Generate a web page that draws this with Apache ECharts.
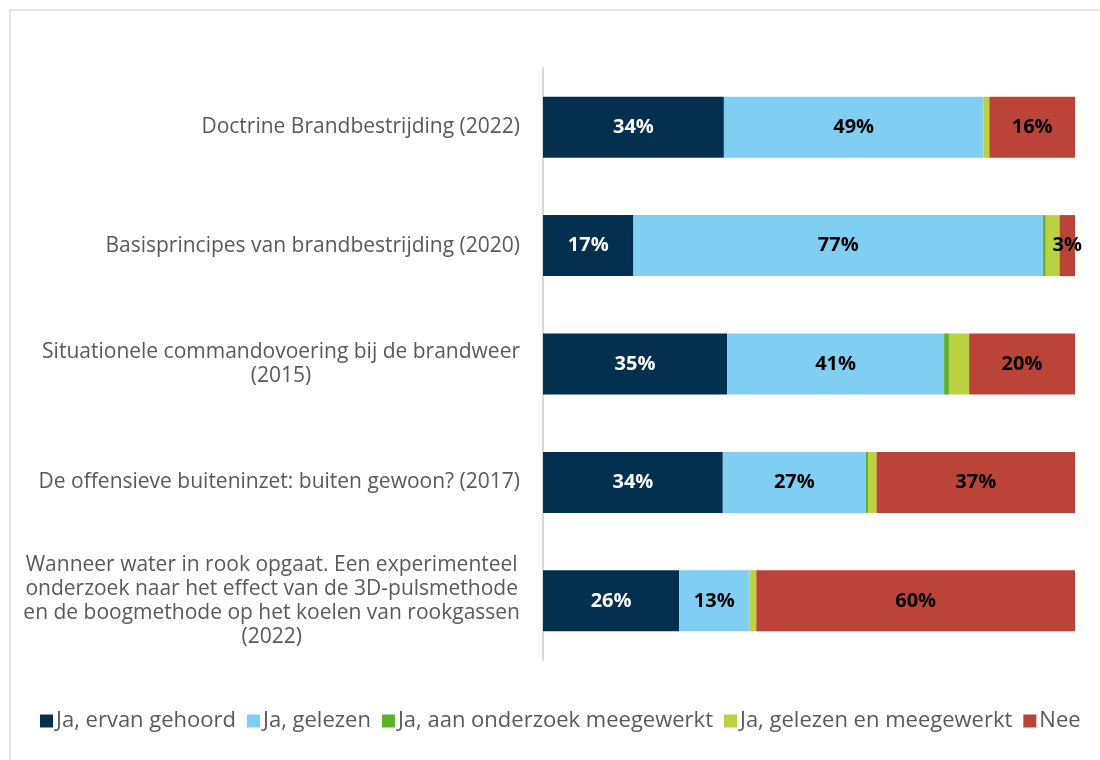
<!DOCTYPE html>
<html>
<head>
<meta charset="utf-8">
<script src="https://cdn.jsdelivr.net/npm/echarts@6/dist/echarts.min.js"></script>
<style>html,body{margin:0;padding:0;background:#fff}#c{width:1100px;height:760px}</style>
</head>
<body>
<div id="c"></div>
<script>
const categories = [
  "Doctrine Brandbestrijding (2022)",
  "Basisprincipes van brandbestrijding (2020)",
  "Situationele commandovoering bij de brandweer\n(2015)",
  "De offensieve buiteninzet: buiten gewoon? (2017)",
  "Wanneer water in rook opgaat. Een experimenteel\nonderzoek naar het effect van de 3D-pulsmethode\nen de boogmethode op het koelen van rookgassen\n(2022)"
];
const seriesNames = ["Ja, ervan gehoord", "Ja, gelezen", "Ja, aan onderzoek meegewerkt", "Ja, gelezen en meegewerkt", "Nee"];
const ervanGehoord = [34, 17, 34.6, 33.8, 25.6];
const gelezen = [48.8, 77, 40.8, 26.9, 13.2];
const onderzoekMeegewerkt = [0, 0.5, 0.9, 0.4, 0];
const gelezenMeegewerkt = [1.1, 2.6, 3.8, 1.6, 1.3];
const nee = [16.1, 3.1, 19.9, 37.3, 60];
const colors = ["#03304f", "#80cff3", "#5db12a", "#bcd141", "#bb4337"];
const showLabel = [true, true, false, false, true];
const labelColors = ["#ffffff", "#000000", "#000000", "#000000", "#000000"];
const values = [ervanGehoord, gelezen, onderzoekMeegewerkt, gelezenMeegewerkt, nee];

const FONT = "'Open Sans', sans-serif";
const chart = echarts.init(document.getElementById('c'), null, {renderer: 'canvas'});
chart.setOption({
  animation: false,
  backgroundColor: '#ffffff',
  graphic: [{type: 'rect', left: 7.5, top: 7.5, shape: {x: 0, y: 0, width: 1200, height: 900}, style: {fill: 'none', stroke: '#dddddd', lineWidth: 1.5}, silent: true}],
  grid: {left: 543, right: 25, top: 68, bottom: 100, containLabel: false},
  legend: {
    bottom: 23, left: 35,
    itemWidth: 13, itemHeight: 13, itemGap: 11,
    icon: 'rect',
    textStyle: {color: '#595959', fontSize: 22, fontFamily: FONT, padding: [0, 0, 0, -2]},
    data: seriesNames
  },
  xAxis: {type: 'value', min: 0, max: 100, show: false},
  yAxis: {
    type: 'category', inverse: true, data: categories,
    axisLine: {show: true, lineStyle: {color: '#d9d9d9', width: 2}},
    axisTick: {show: false},
    axisLabel: {
      margin: 23, align: 'right', color: '#595959', fontSize: 21, fontFamily: FONT, lineHeight: 24,
      formatter: v => v.split('\n').map(l => '{c|' + l + '}').join('\n'),
      rich: {c: {align: 'center', color: '#595959', fontSize: 21, fontFamily: FONT, lineHeight: 24}}
    }
  },
  series: values.map((d, i) => ({
    name: seriesNames[i], type: 'bar', stack: 'total', data: d, barWidth: 61,
    itemStyle: {color: colors[i]},
    label: {
      show: showLabel[i], position: 'inside', color: labelColors[i], fontWeight: 'bold', fontSize: 20, fontFamily: FONT,
      formatter: p => Math.round(p.value) + '%'
    }
  }))
});
</script>
</body>
</html>
